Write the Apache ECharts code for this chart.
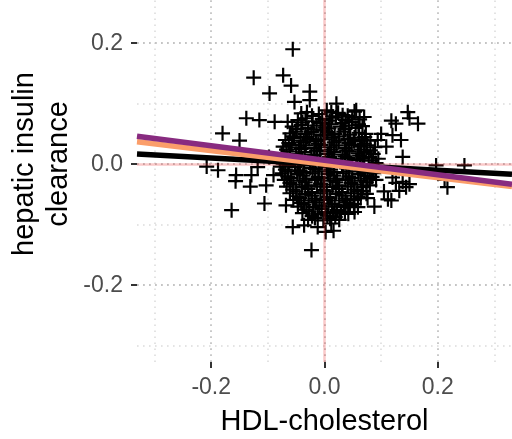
<!DOCTYPE html>
<html>
<head>
<meta charset="utf-8">
<script src="https://cdn.jsdelivr.net/npm/echarts@6/dist/echarts.min.js"></script>
<style>
  html, body { margin: 0; padding: 0; background: #fff; }
  #chart { width: 512px; height: 439px; }
</style>
</head>
<body>
<div id="chart"></div>
<script>
// Axis limits (symmetric around zero)
const xLimits = [-0.331, 0.331];
const yLimits = [-0.327, 0.326];

// Tick labels and gridlines
const xTicks = [-0.2, 0, 0.2];
const yTicks = [-0.2, 0, 0.2];
const gridMajor = [-0.2, 0, 0.2];
const gridMinor = [-0.3, -0.1, 0.1, 0.3];

// Axis titles
const xTitle = 'HDL-cholesterol';
const yTitle = 'hepatic insulin\nclearance';

// Scattered observations away from the bulk: [HDL-cholesterol, hepatic insulin clearance]
const outerPoints = [
  [-0.056, 0.190], [-0.125, 0.143], [-0.073, 0.147], [-0.059, 0.130], [-0.097, 0.117],
  [-0.026, 0.120], [-0.053, 0.103], [-0.026, 0.106], [-0.041, 0.084], [0.021, 0.100],
  [0.012, 0.086], [0.032, 0.081], [0.056, 0.089], [0.070, 0.078],
  [0.147, 0.086], [0.150, 0.076], [0.126, 0.067], [0.165, 0.067], [0.118, 0.072],
  [-0.138, 0.076], [-0.115, 0.073], [-0.088, 0.070], [-0.065, 0.070],
  [-0.180, 0.051], [-0.150, 0.039], [0.120, 0.048], [0.135, 0.040], [0.109, 0.029],
  [0.138, 0.012], [0.100, 0.050], [0.094, 0.040],
  [-0.208, -0.004], [-0.188, -0.010], [-0.156, -0.018], [-0.157, -0.028], [-0.129, -0.018],
  [-0.131, -0.037], [-0.103, -0.035], [-0.118, -0.005], [-0.098, 0.012], [-0.090, -0.018],
  [0.197, -0.002], [0.247, -0.002], [0.217, -0.038], [0.212, -0.026],
  [0.138, -0.029], [0.144, -0.038], [0.126, -0.031], [0.132, -0.044], [0.150, -0.033],
  [0.120, -0.022], [0.105, -0.045], [0.112, -0.058],
  [-0.164, -0.076], [-0.106, -0.065], [-0.068, -0.068], [-0.023, -0.142],
  [0.088, -0.070], [0.118, -0.060], [0.053, -0.079], [0.076, -0.056],
  [-0.056, -0.104], [-0.036, -0.101], [-0.012, -0.104], [0.012, -0.098], [0.016, -0.110],
  [0.002, -0.112], [0.036, -0.068]
];

// Dense central cloud
const corePoints = [
  [-0.031, 0.086], [-0.010, 0.083], [0.004, 0.089], [0.024, 0.085], [0.041, 0.080], [0.053, 0.087],
  [-0.047, 0.073], [-0.033, 0.076], [-0.021, 0.071], [-0.004, 0.075], [0.009, 0.072], [0.020, 0.077],
  [0.037, 0.073], [0.048, 0.070], [0.062, 0.074],
  [-0.057, 0.062], [-0.041, 0.065], [-0.029, 0.060], [-0.014, 0.064], [0.001, 0.061], [0.012, 0.066],
  [0.028, 0.062], [0.043, 0.064], [0.055, 0.060], [0.067, 0.063],
  [-0.061, 0.051], [-0.050, 0.054], [-0.034, 0.050], [-0.023, 0.053], [-0.007, 0.049], [0.005, 0.053],
  [0.018, 0.050], [0.034, 0.054], [0.045, 0.049], [0.061, 0.052], [0.073, 0.050],
  [-0.069, 0.040], [-0.054, 0.043], [-0.042, 0.039], [-0.027, 0.042], [-0.015, 0.038], [0.000, 0.041],
  [0.013, 0.044], [0.025, 0.039], [0.041, 0.042], [0.052, 0.038], [0.066, 0.041], [0.081, 0.039],
  [-0.073, 0.029], [-0.058, 0.032], [-0.045, 0.028], [-0.033, 0.031], [-0.018, 0.027], [-0.006, 0.032],
  [0.009, 0.028], [0.021, 0.031], [0.036, 0.027], [0.048, 0.032], [0.063, 0.029], [0.075, 0.031], [0.089, 0.028],
  [-0.076, 0.018], [-0.061, 0.021], [-0.050, 0.017], [-0.035, 0.020], [-0.023, 0.016], [-0.008, 0.021],
  [0.006, 0.017], [0.017, 0.020], [0.032, 0.016], [0.044, 0.021], [0.059, 0.018], [0.071, 0.020], [0.086, 0.017],
  [-0.079, 0.007], [-0.067, 0.010], [-0.052, 0.006], [-0.040, 0.009], [-0.025, 0.005], [-0.013, 0.010],
  [0.002, 0.006], [0.014, 0.009], [0.029, 0.005], [0.041, 0.010], [0.056, 0.007], [0.068, 0.009],
  [0.083, 0.006], [0.095, 0.009],
  [-0.078, -0.004], [-0.063, -0.001], [-0.052, -0.005], [-0.036, -0.002], [-0.025, -0.006], [-0.009, -0.001],
  [0.004, -0.005], [0.016, -0.002], [0.031, -0.004], [0.043, -0.001], [0.058, -0.005], [0.070, -0.002], [0.085, -0.004],
  [-0.075, -0.015], [-0.064, -0.012], [-0.048, -0.016], [-0.037, -0.013], [-0.021, -0.015], [-0.010, -0.012],
  [0.006, -0.016], [0.017, -0.013], [0.033, -0.015], [0.044, -0.012], [0.060, -0.016], [0.071, -0.013], [0.087, -0.015],
  [-0.071, -0.026], [-0.059, -0.023], [-0.044, -0.027], [-0.032, -0.024], [-0.017, -0.026], [-0.005, -0.023],
  [0.010, -0.027], [0.022, -0.024], [0.037, -0.026], [0.049, -0.023], [0.064, -0.027], [0.076, -0.024], [0.091, -0.026],
  [-0.067, -0.037], [-0.055, -0.034], [-0.040, -0.038], [-0.028, -0.035], [-0.013, -0.037], [-0.001, -0.034],
  [0.014, -0.038], [0.026, -0.035], [0.041, -0.037], [0.053, -0.034], [0.068, -0.038], [0.080, -0.035],
  [-0.061, -0.048], [-0.050, -0.045], [-0.034, -0.049], [-0.023, -0.046], [-0.007, -0.048], [0.004, -0.045],
  [0.020, -0.049], [0.031, -0.046], [0.047, -0.048], [0.058, -0.045], [0.074, -0.049],
  [-0.055, -0.059], [-0.044, -0.056], [-0.028, -0.060], [-0.017, -0.057], [-0.001, -0.059], [0.010, -0.056],
  [0.026, -0.060], [0.037, -0.057], [0.053, -0.059], [0.064, -0.056],
  [-0.047, -0.070], [-0.036, -0.067], [-0.020, -0.071], [-0.009, -0.068], [0.007, -0.070], [0.018, -0.067],
  [0.034, -0.071], [0.045, -0.068], [0.059, -0.071],
  [-0.039, -0.081], [-0.027, -0.078], [-0.012, -0.082], [0.002, -0.079], [0.015, -0.081], [0.029, -0.078], [0.042, -0.082],
  [-0.029, -0.092], [-0.017, -0.089], [-0.002, -0.093], [0.010, -0.090], [0.026, -0.092]
];

// Further observations packed inside the central cloud
const innerPoints = [
  [-0.022, 0.080], [0.014, 0.079], [0.031, 0.068], [-0.039, 0.069], [-0.007, 0.068], [0.049, 0.077],
  [-0.049, 0.058], [-0.019, 0.057], [0.008, 0.059], [0.036, 0.058], [0.060, 0.066], [-0.003, 0.056],
  [-0.056, 0.046], [-0.031, 0.045], [-0.001, 0.047], [0.026, 0.046], [0.053, 0.044], [0.071, 0.045],
  [-0.063, 0.035], [-0.037, 0.036], [-0.011, 0.034], [0.017, 0.036], [0.043, 0.035], [0.070, 0.034],
  [-0.067, 0.024], [-0.041, 0.025], [-0.014, 0.023], [0.012, 0.024], [0.039, 0.023], [0.065, 0.024], [0.081, 0.023],
  [-0.071, 0.013], [-0.045, 0.012], [-0.018, 0.014], [0.009, 0.012], [0.036, 0.013], [0.062, 0.014], [0.078, 0.012],
  [-0.072, 0.001], [-0.046, 0.002], [-0.019, 0.000], [0.010, 0.001], [0.037, 0.003], [0.064, 0.000], [0.091, 0.002],
  [-0.069, -0.009], [-0.043, -0.010], [-0.016, -0.008], [0.011, -0.009], [0.039, -0.007], [0.066, -0.009], [0.080, -0.010],
  [-0.065, -0.020], [-0.038, -0.019], [-0.011, -0.021], [0.016, -0.019], [0.043, -0.020], [0.070, -0.019], [0.084, -0.021],
  [-0.061, -0.031], [-0.034, -0.030], [-0.007, -0.032], [0.020, -0.030], [0.047, -0.031], [0.074, -0.030],
  [-0.056, -0.042], [-0.029, -0.041], [-0.002, -0.043], [0.025, -0.041], [0.052, -0.042], [0.066, -0.044],
  [-0.049, -0.053], [-0.022, -0.052], [0.005, -0.054], [0.032, -0.052], [0.059, -0.053],
  [-0.041, -0.064], [-0.014, -0.063], [0.013, -0.065], [0.040, -0.063], [0.052, -0.066],
  [-0.032, -0.075], [-0.005, -0.074], [0.022, -0.076], [0.036, -0.079],
  [-0.022, -0.086], [0.005, -0.085], [0.019, -0.087]
];

// Fitted lines: intercept and slope
const fitNames = ['black', 'orange', 'purple'];
const fitColors = ['#000000', '#FB9E6A', '#882B80'];
const fitIntercepts = [0.0002, 0.0000, 0.0065];
const fitSlopes = [-0.0506, -0.1120, -0.1199];

const font = 'Liberation Sans, Arial, Helvetica, sans-serif';

function gridLines(values) {
  return values.map(v => ({ xAxis: v })).concat(values.map(v => ({ yAxis: v })));
}

const fitSeries = fitNames.map((name, i) => ({
  name: name,
  type: 'line',
  z: 10 + i,
  symbol: 'none',
  silent: true,
  lineStyle: { color: fitColors[i], width: 5.5, cap: 'butt' },
  data: xLimits.map(x => [x, fitIntercepts[i] + fitSlopes[i] * x])
}));

const chart = echarts.init(document.getElementById('chart'), null, { renderer: 'canvas' });
chart.setOption({
  animation: false,
  backgroundColor: '#ffffff',
  grid: { left: 137, right: 0, top: -33, bottom: 77, containLabel: false, outerBoundsMode: 'none' },
  graphic: [{
    type: 'text',
    x: 42, y: 164,
    rotation: Math.PI / 2,
    silent: true,
    style: {
      text: yTitle,
      fontSize: 29, fontFamily: font, fill: '#000000',
      lineHeight: 34, align: 'center', verticalAlign: 'middle'
    }
  }],
  xAxis: {
    type: 'value',
    min: xLimits[0], max: xLimits[1],
    axisLine: { show: false, onZero: false },
    splitLine: { show: false },
    axisTick: { show: true, customValues: xTicks, length: 6, lineStyle: { color: '#333333', width: 2 } },
    axisLabel: {
      customValues: xTicks, margin: 14, fontSize: 23, color: '#4D4D4D', fontFamily: font,
      formatter: v => v.toFixed(1)
    },
    name: xTitle,
    nameLocation: 'middle',
    nameGap: 45,
    nameTextStyle: { fontSize: 29, color: '#000000', fontFamily: font }
  },
  yAxis: {
    type: 'value',
    min: yLimits[0], max: yLimits[1],
    axisLine: { show: false, onZero: false },
    splitLine: { show: false },
    axisTick: { show: true, customValues: yTicks, length: 6, lineStyle: { color: '#333333', width: 2 } },
    axisLabel: {
      customValues: yTicks, margin: 14, fontSize: 23, color: '#4D4D4D', fontFamily: font,
      formatter: v => v.toFixed(1)
    }
  },
  series: [
    {
      name: 'gridMinor', type: 'line', data: [], silent: true,
      markLine: {
        z: 1, silent: true, symbol: 'none', label: { show: false },
        lineStyle: { color: '#dcdcdc', width: 1.6, type: [1.6, 4.4] },
        data: gridLines(gridMinor)
      }
    },
    {
      name: 'gridMajor', type: 'line', data: [], silent: true,
      markLine: {
        z: 1, silent: true, symbol: 'none', label: { show: false },
        lineStyle: { color: '#c4c4c4', width: 1.8, type: [1.8, 4.2] },
        data: gridLines(gridMajor)
      }
    },
    {
      name: 'observations', type: 'scatter', z: 3, silent: true,
      symbol: 'path://M7,0V14M0,7H14', symbolSize: 15,
      itemStyle: { color: 'transparent', borderColor: '#000000', borderWidth: 2.2, opacity: 1 },
      data: outerPoints.concat(corePoints, innerPoints)
    },
    {
      name: 'zeroLines', type: 'line', data: [], silent: true,
      markLine: {
        z: 5, silent: true, symbol: 'none', label: { show: false },
        lineStyle: { color: 'rgba(235, 40, 40, 0.25)', width: 2.5, type: 'solid' },
        data: [{ xAxis: 0 }, { yAxis: 0 }]
      }
    }
  ].concat(fitSeries)
});
</script>
</body>
</html>
